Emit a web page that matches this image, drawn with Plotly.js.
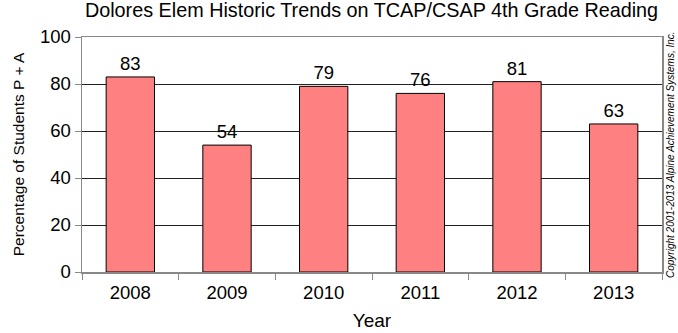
<!DOCTYPE html>
<html><head><meta charset="utf-8">
<script src="https://cdn.plot.ly/plotly-3.0.1.min.js"></script>
<style>html,body{margin:0;padding:0;background:#fff}#chart{width:678px;height:333px}</style>
</head><body><div id="chart"></div>
<script>
const years = ['2008','2009','2010','2011','2012','2013'];
const pctPA = [83, 54, 79, 76, 81, 63];
const yTicks = [0, 20, 40, 60, 80, 100];

const fam = 'Liberation Sans, Arial, sans-serif';
const trace = {
  type: 'bar', x: years, y: pctPA,
  text: pctPA.map(String), textposition: 'outside', cliponaxis: false,
  textfont: {family: fam, size: 18.5, color: '#000'},
  marker: {color: '#FF8080', line: {color: '#000', width: 1}},
  width: 0.5, hoverinfo: 'none'
};
const layout = {
  width: 678, height: 333,
  margin: {l: 82, r: 16, t: 37, b: 61},
  paper_bgcolor: '#fff', plot_bgcolor: '#fff',
  font: {family: fam, size: 18.5, color: '#000'},
  title: {text: 'Dolores Elem Historic Trends on TCAP/CSAP 4th Grade Reading',
          x: 0.548, xanchor: 'center', y: 0.99, yanchor: 'top', font: {size: 19.8}},
  showlegend: false, bargap: 0.5,
  xaxis: {type: 'category', tickson: 'boundaries', ticks: 'outside', ticklen: 6, tickcolor: '#888',
          ticklabelstandoff: 3,
          showline: true, linecolor: '#888', linewidth: 1.5, mirror: true, showgrid: false,
          title: {text: 'Year', standoff: 12, font: {size: 19}}, tickfont: {size: 18.5}},
  yaxis: {range: [0, 100], tickvals: yTicks, ticktext: yTicks.map(String), ticks: 'outside', ticklen: 6,
          tickcolor: '#888', showline: true, linecolor: '#888', linewidth: 1.5, mirror: true,
          showgrid: true, gridcolor: '#222', gridwidth: 1, zeroline: false,
          title: {text: 'Percentage of Students P + A', standoff: 11, font: {size: 15.5}},
          tickfont: {size: 18.5}},
  annotations: [{text: 'Copyright 2001-2013 Alpine Achievement Systems, Inc.', xref: 'paper', yref: 'paper',
    x: 1, xanchor: 'left', xshift: 1, y: 0.5, yanchor: 'middle', textangle: -90, showarrow: false,
    font: {size: 10, family: fam, color: '#000', style: 'italic'}}]
};
Plotly.newPlot('chart', [trace], layout, {staticPlot: true, displayModeBar: false});
</script></body></html>
